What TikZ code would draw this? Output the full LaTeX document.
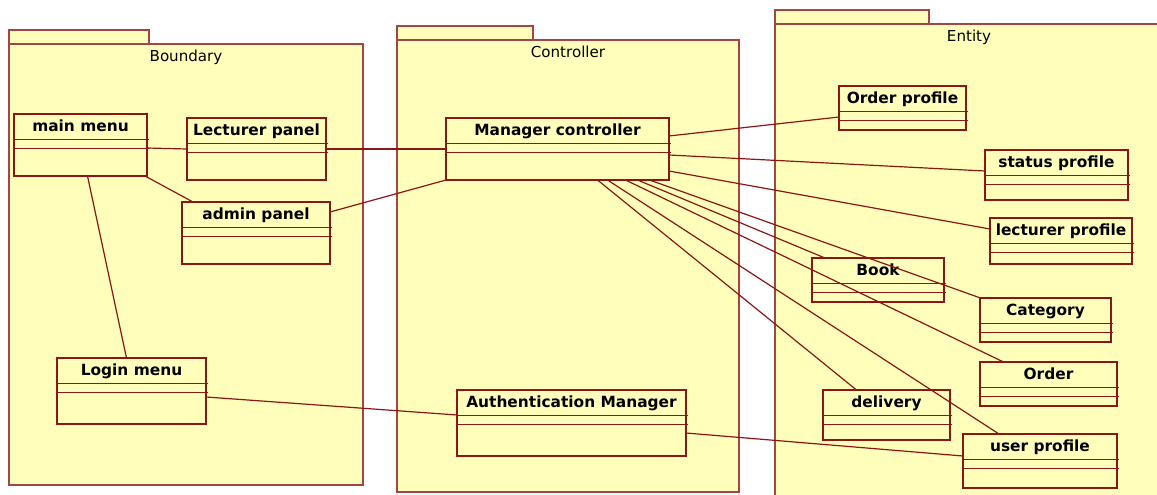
\documentclass[tikz,border=0pt]{standalone}
\usepackage{fontspec}
\setmainfont{DejaVu Sans}
\usetikzlibrary{calc}
\definecolor{umlred}{RGB}{140,22,22}
\definecolor{umlfill}{RGB}{255,255,187}
\tikzstyle{package} = [draw = umlred!80, fill = umlfill, line width = 1.2pt]
\tikzstyle{class box} = [rectangle, draw = umlred, fill = umlfill, line width = 1.2pt, inner sep = 0, outer sep = 0]
\tikzstyle{compartment} = [draw = umlred, line width = 1.2pt]
\tikzstyle{class name} = [font = \fontsize{15.4}{17}\selectfont\bfseries, inner sep = 0, anchor = base]
\tikzstyle{package name} = [font = \fontsize{15.1}{17}\selectfont, inner sep = 0, anchor = base]
\tikzstyle{edge} = [draw = umlred, line width = 1.2pt]

\begin{document}
\begin{tikzpicture}[x = 1pt, y = -1pt]
    \useasboundingbox (0, 0) rectangle (1157, 495);
    \clip (0, 0) rectangle (1157, 495);

    % packages
    \foreach \x/\y/\tab/\X/\Y/\t in {9/30/149/363/485/Boundary,
        397/26/533/739/492/Controller, 775/10/929/1163/505/Entity}
    {
        \draw [package] (\x, \y) rectangle (\tab, \y + 14);
        \draw [package] (\x, \y + 14) rectangle (\X, \Y);
        \node [package name] (\t) at ({(\x + \X) / 2}, \y + 32) {\t};
    }

    % classes
    \foreach \name/\x/\y/\X/\Y/\t in {mainmenu/14/114/147/176/main menu,
        lecturer/187/118/326/180/Lecturer panel,
        admin/182/202/330/264/admin panel,
        login/57/358/206/424/Login menu,
        mc/446/118/669/180/Manager controller,
        auth/457/390/686/456/Authentication Manager,
        orderprofile/839/86/966/130/Order profile,
        status/985/150/1128/200/status profile,
        lecturerprofile/990/218/1132/264/lecturer profile,
        book/812/258/944/302/Book,
        category/980/298/1111/342/Category,
        order/980/362/1117/406/Order,
        delivery/823/390/950/440/delivery,
        userprofile/963/434/1117/488/user profile}
    {
        \node [class box, minimum width = {(\X - \x) * 1pt},
            minimum height = {(\Y - \y) * 1pt}]
            (\name) at ({(\x + \X) / 2}, {(\y + \Y) / 2}) {};
        \draw [compartment] ([yshift = -25.5pt] \name.north west)
            -- ([xshift = 2pt, yshift = -25.5pt] \name.north east);
        \draw [compartment] ([yshift = -34.5pt] \name.north west)
            -- ([xshift = 2pt, yshift = -34.5pt] \name.north east);
        \node [class name] (\name-label) at ([yshift = -17pt] \name.north) {\t};
    }

    % boundary side
    \draw [edge] ([yshift = -3pt] mainmenu.east) -- (lecturer.west);
    \draw [edge] ([xshift = -2pt] mainmenu.south east) -- ([xshift = 11pt] admin.north west);
    \draw [edge] ([xshift = 7pt] mainmenu.south) -- ([xshift = -5pt] login.north);
    \draw [edge] (lecturer.east) -- (mc.west);
    \draw [edge] ([yshift = 21pt] admin.east) -- (mc.south west);
    \draw [edge] ([yshift = -6pt] login.east) -- ([yshift = 8pt] auth.west);

    % entity side
    \draw [edge] ([yshift = 13pt] mc.east) -- ([yshift = -9pt] orderprofile.west);
    \draw [edge] ([yshift = -6pt] mc.east) -- ([yshift = 4pt] status.west);
    \draw [edge] ([yshift = -22pt] mc.east) -- ([yshift = 12pt] lecturerprofile.west);
    \foreach \s/\target/\u in {40/delivery/-30, 50/userprofile/-41,
        68/order/-45, 80/book/-53, 92/category/-65}
    {
        \draw [edge] ([xshift = \s pt] mc.south) -- ([xshift = \u pt] \target.north);
    }
    \draw [edge] ([yshift = -10pt] auth.east) -- ([yshift = 5pt] userprofile.west);
\end{tikzpicture}
\end{document}
